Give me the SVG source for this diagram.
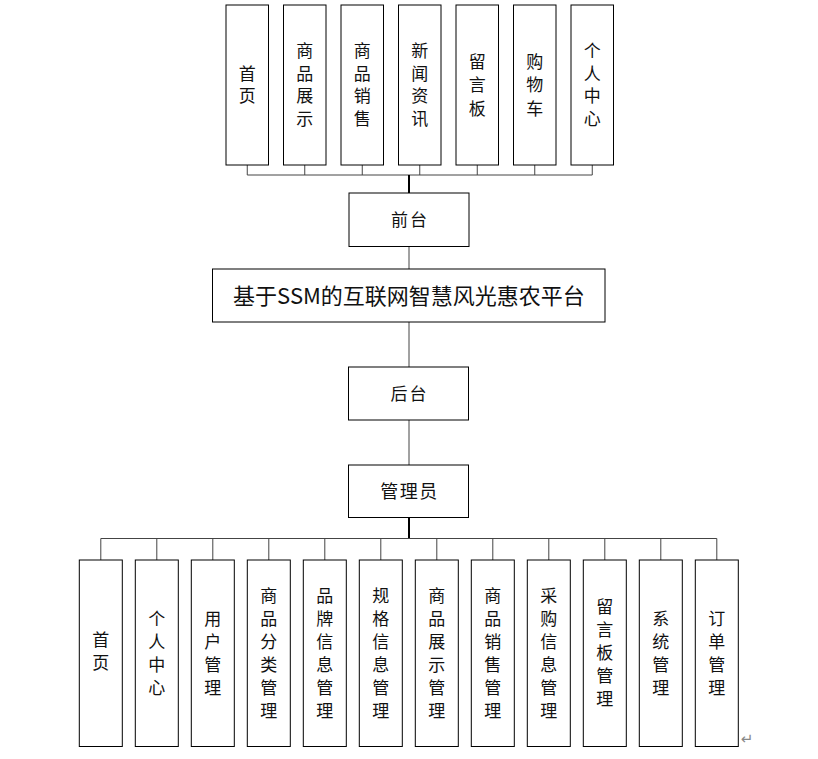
<svg xmlns="http://www.w3.org/2000/svg" width="818" height="759" viewBox="0 0 818 759">
<style>
.box{fill:#fff;stroke:#000;stroke-width:1}
.t{font-family:"Noto Sans CJK SC","Noto Sans",sans-serif;fill:#111;text-anchor:middle}
.v{font-size:17px;writing-mode:tb;letter-spacing:5.5px}
.w{font-size:17px;writing-mode:tb;letter-spacing:6px}
.h{font-size:17px;letter-spacing:2px}
.ln{stroke:#444;stroke-width:1;fill:none}
.tk{stroke:#000;stroke-width:2;fill:none}
</style>
<rect width="818" height="759" fill="#fff"/>
<g id="connectors">
<path class="ln" d="M247.25 165V175M304.75 165V175M362.25 165V175M419.75 165V175M477.25 165V175M534.75 165V175M592.25 165V175M247.25 175H592.25"/>
<path class="tk" d="M409 175V193"/>
<path class="ln" d="M409 246.5V269M409 322V367M409 420V465"/>
<path class="tk" d="M409 517.5V538.5"/>
<path class="ln" d="M100.8 538.5H716.8M100.8 538.5V560M156.8 538.5V560M212.8 538.5V560M268.8 538.5V560M324.8 538.5V560M380.8 538.5V560M436.8 538.5V560M492.8 538.5V560M548.8 538.5V560M604.8 538.5V560M660.8 538.5V560M716.8 538.5V560"/>
</g>
<g id="f1"><rect class="box" x="226" y="5" width="42.5" height="160"/><text class="t v" x="247.25" y="87.5">首页</text></g>
<g id="f2"><rect class="box" x="283.5" y="5" width="42.5" height="160"/><text class="t v" x="304.75" y="87.5">商品展示</text></g>
<g id="f3"><rect class="box" x="341" y="5" width="42.5" height="160"/><text class="t v" x="362.25" y="87.5">商品销售</text></g>
<g id="f4"><rect class="box" x="398.5" y="5" width="42.5" height="160"/><text class="t v" x="419.75" y="87.5">新闻资讯</text></g>
<g id="f5"><rect class="box" x="456" y="5" width="42.5" height="160"/><text class="t v" style="letter-spacing:6.5px" x="477.25" y="88">留言板</text></g>
<g id="f6"><rect class="box" x="513.5" y="5" width="42.5" height="160"/><text class="t v" style="letter-spacing:6.5px" x="534.75" y="88">购物车</text></g>
<g id="f7"><rect class="box" x="571" y="5" width="42.5" height="160"/><text class="t v" x="592.25" y="87.5">个人中心</text></g>
<g id="qiantai"><rect class="box" x="349" y="193" width="120" height="53.5"/><text class="t h" x="410" y="226">前台</text></g>
<g id="platform"><rect class="box" x="212.5" y="269" width="392.5" height="53"/><text class="t" style="font-size:22px" x="409" y="303.5">基于SSM的互联网智慧风光惠农平台</text></g>
<g id="houtai"><rect class="box" x="348.5" y="367" width="120" height="53"/><text class="t h" x="409.5" y="399.5">后台</text></g>
<g id="admin"><rect class="box" x="348.5" y="465" width="120" height="52.5"/><text class="t" style="font-size:18px;letter-spacing:1.5px" x="409.5" y="497.5">管理员</text></g>
<g id="b1"><rect class="box" x="79.3" y="560" width="43" height="186.5"/><text class="t w" x="100.8" y="654">首页</text></g>
<g id="b2"><rect class="box" x="135.3" y="560" width="43" height="186.5"/><text class="t w" x="156.8" y="656">个人中心</text></g>
<g id="b3"><rect class="box" x="191.3" y="560" width="43" height="186.5"/><text class="t w" x="212.8" y="656">用户管理</text></g>
<g id="b4"><rect class="box" x="247.3" y="560" width="43" height="186.5"/><text class="t w" x="268.8" y="656">商品分类管理</text></g>
<g id="b5"><rect class="box" x="303.3" y="560" width="43" height="186.5"/><text class="t w" x="324.8" y="656">品牌信息管理</text></g>
<g id="b6"><rect class="box" x="359.3" y="560" width="43" height="186.5"/><text class="t w" x="380.8" y="656">规格信息管理</text></g>
<g id="b7"><rect class="box" x="415.3" y="560" width="43" height="186.5"/><text class="t w" x="436.8" y="656">商品展示管理</text></g>
<g id="b8"><rect class="box" x="471.3" y="560" width="43" height="186.5"/><text class="t w" x="492.8" y="656">商品销售管理</text></g>
<g id="b9"><rect class="box" x="527.3" y="560" width="43" height="186.5"/><text class="t w" x="548.8" y="656">采购信息管理</text></g>
<g id="b10"><rect class="box" x="583.3" y="560" width="43" height="186.5"/><text class="t w" x="604.8" y="656">留言板管理</text></g>
<g id="b11"><rect class="box" x="639.3" y="560" width="43" height="186.5"/><text class="t w" x="660.8" y="656">系统管理</text></g>
<g id="b12"><rect class="box" x="695.3" y="560" width="43" height="186.5"/><text class="t w" x="716.8" y="656">订单管理</text></g>
<text x="747" y="744" style="font-family:'DejaVu Sans',sans-serif;font-size:15px;fill:#888;text-anchor:middle">↵</text>
</svg>
